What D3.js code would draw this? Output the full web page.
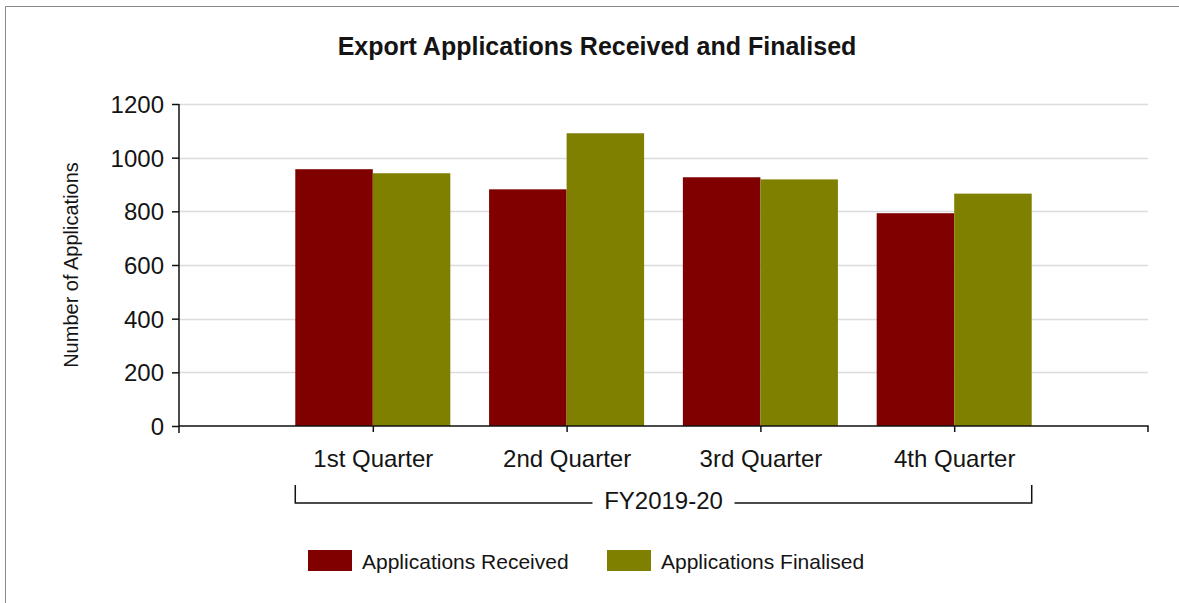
<!DOCTYPE html>
<html>
  <head>
    <title>Export Applications</title>
    <script src="https://d3js.org/d3.v7.min.js"></script>
    <style>
      body { margin: 0; background: #fff; }
      text { font-family: "Liberation Sans", Arial, sans-serif; fill: #141414; }
    </style>
  </head>
  <body>
    <svg id="plot" width="1179" height="603"></svg>
    <script>
      // data
      var quarters = ["1st Quarter", "2nd Quarter", "3rd Quarter", "4th Quarter"];
      var received = [957, 882, 927, 793];
      var finalised = [942, 1091, 919, 866];
      var seriesNames = ["Applications Received", "Applications Finalised"];
      var seriesColors = ["#800000", "#808000"];
      var yTicks = [0, 200, 400, 600, 800, 1000, 1200];
      var groupLabel = "FY2019-20";

      var svg = d3.select("#plot");

      // frame
      svg.append("path")
        .attr("d", "M5.5,603 V6.5 H1179")
        .attr("fill", "none")
        .attr("stroke", "#8a8a8a");

      var pLeft = 179, pRight = 1148, pTop = 104, pBottom = 426;

      var y = d3.scaleLinear().domain([0, 1200]).range([pBottom, pTop]);
      // 5 equal slots across the axis, quarters sit on positions 1..4
      var xPos = d3.scaleLinear().domain([0, quarters.length + 1]).range([pLeft, pRight]);
      var step = xPos(1) - xPos(0);
      var groupW = step * 0.8;
      var x1 = d3.scaleBand().domain([0, 1]).range([-groupW / 2, groupW / 2]);

      // title
      svg.append("text")
        .attr("x", 597).attr("y", 55)
        .attr("text-anchor", "middle")
        .style("font-size", "25px").style("font-weight", "bold")
        .text("Export Applications Received and Finalised");

      // y label
      svg.append("text")
        .attr("transform", "translate(78,265) rotate(-90)")
        .attr("text-anchor", "middle")
        .style("font-size", "20px")
        .text("Number of Applications");

      // gridlines
      svg.append("g")
        .selectAll("line")
        .data(yTicks.slice(1))
        .join("line")
        .attr("x1", pLeft).attr("x2", pRight)
        .attr("y1", (d) => Math.round(y(d)) + 0.5)
        .attr("y2", (d) => Math.round(y(d)) + 0.5)
        .attr("stroke", "#dcdcdc").attr("stroke-width", 1.5);

      // bars
      var data = quarters.map((q, i) => ({ q: q, i: i, vals: [received[i], finalised[i]] }));
      var groups = svg.append("g")
        .selectAll("g")
        .data(data)
        .join("g")
        .attr("transform", (d) => "translate(" + xPos(d.i + 1) + ",0)");
      groups.selectAll("rect")
        .data((d) => d.vals.map((v, k) => ({ v: v, k: k })))
        .join("rect")
        .attr("x", (d) => x1(d.k))
        .attr("width", x1.bandwidth())
        .attr("y", (d) => y(d.v))
        .attr("height", (d) => pBottom - y(d.v))
        .attr("fill", (d) => seriesColors[d.k]);

      // y axis
      var yAxis = d3.axisLeft(y).tickValues(yTicks).tickFormat(d3.format("d"))
        .tickSize(7).tickPadding(8);
      var gy = svg.append("g")
        .attr("transform", "translate(" + pLeft + ",0)")
        .call(yAxis);
      gy.select(".domain").remove();
      gy.selectAll("line").attr("stroke", "#111").attr("stroke-width", 1.5);
      gy.selectAll("text").style("font-size", "24px").style("fill", "#141414").attr("dy", "0.36em");
      svg.append("line")
        .attr("x1", pLeft).attr("x2", pLeft)
        .attr("y1", pTop).attr("y2", pBottom + 7)
        .attr("stroke", "#111").attr("stroke-width", 1.5);

      // x axis
      var xAxis = d3.axisBottom(xPos)
        .tickValues(d3.range(1, quarters.length + 1))
        .tickFormat((d) => quarters[d - 1])
        .tickSizeInner(6).tickSizeOuter(0).tickPadding(18);
      var gx = svg.append("g")
        .attr("transform", "translate(0," + pBottom + ")")
        .call(xAxis);
      gx.select(".domain").remove();
      gx.selectAll("line").attr("stroke", "#111").attr("stroke-width", 1.5);
      gx.selectAll("text").style("font-size", "24px").style("fill", "#141414");
      svg.append("path")
        .attr("d", "M" + pLeft + "," + pBottom + " H" + pRight + " V" + (pBottom + 6))
        .attr("fill", "none").attr("stroke", "#111").attr("stroke-width", 1.5);

      // group bracket
      var bx0 = xPos(1) - groupW / 2, bx1 = xPos(quarters.length) + groupW / 2;
      var bMid = (bx0 + bx1) / 2;
      var gap = 71;
      svg.append("path")
        .attr("d", "M" + bx0 + ",485 V503 H" + (bMid - gap) +
          " M" + (bMid + gap) + ",503 H" + bx1 + " V485")
        .attr("fill", "none").attr("stroke", "#111").attr("stroke-width", 1.5);
      svg.append("text")
        .attr("x", bMid).attr("y", 509)
        .attr("text-anchor", "middle")
        .style("font-size", "24px")
        .text(groupLabel);

      // legend
      var legendX = [308, 607];
      var lg = svg.append("g")
        .selectAll("g")
        .data(seriesNames)
        .join("g")
        .attr("transform", (d, i) => "translate(" + legendX[i] + ",550)");
      lg.append("rect")
        .attr("width", 44).attr("height", 21)
        .attr("fill", (d, i) => seriesColors[i]);
      lg.append("text")
        .attr("x", 54).attr("y", 19)
        .style("font-size", "21px")
        .text((d) => d);
    </script>
  </body>
</html>
